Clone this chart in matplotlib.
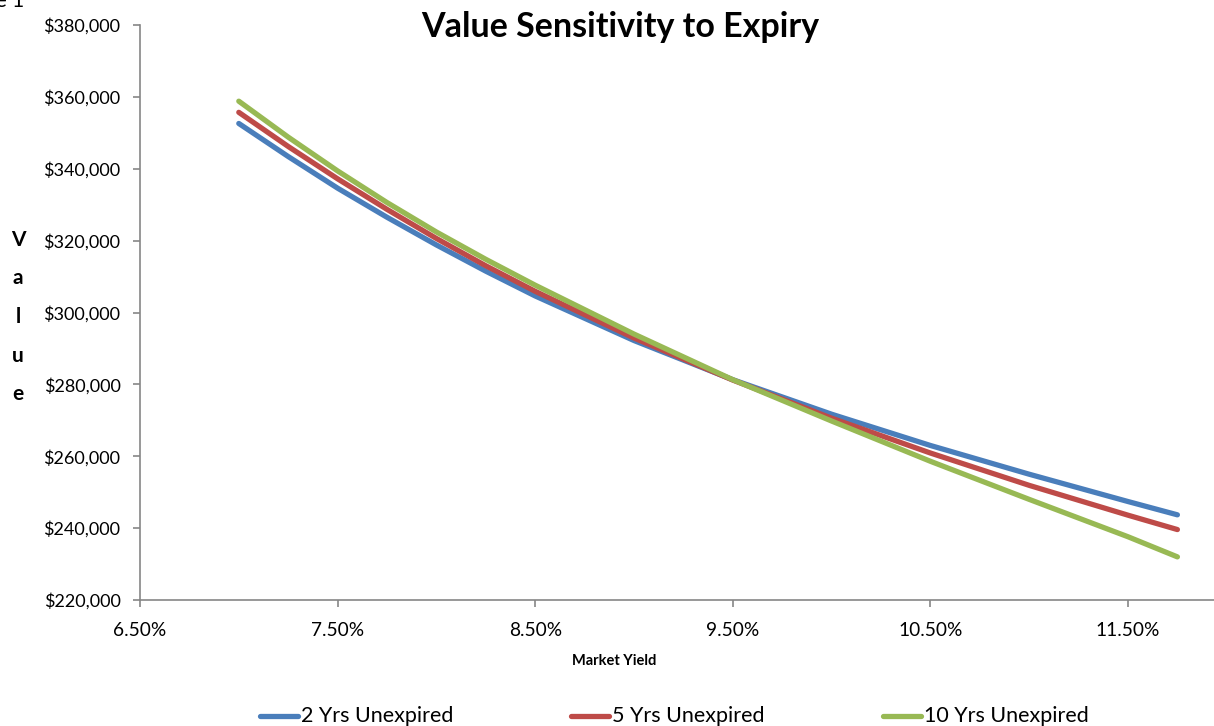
import matplotlib
matplotlib.use("Agg")
import matplotlib.pyplot as plt
from matplotlib.lines import Line2D
from matplotlib.ticker import FuncFormatter, MultipleLocator, FixedLocator

# ---- data ----
market_yield = [0.0700, 0.0725, 0.0750, 0.0775, 0.0800, 0.0825, 0.0850, 0.0900,
                0.0950, 0.1000, 0.1050, 0.1100, 0.1150, 0.1175]
value_2yrs = [352600, 343400, 334600, 326500, 318800, 311500, 304600, 292200,
              281300, 271700, 263000, 255000, 247400, 243700]
value_5yrs = [355700, 346200, 337200, 328700, 320600, 313000, 305900, 292900,
              281200, 270600, 260900, 251900, 243600, 239600]
value_10yrs = [358800, 348800, 339400, 330600, 322400, 314800, 307600, 294000,
               281300, 269800, 258600, 248000, 237600, 232000]
x_ticks = [0.065, 0.075, 0.085, 0.095, 0.105, 0.115]
series_names = ["2 Yrs Unexpired", "5 Yrs Unexpired", "10 Yrs Unexpired"]
series_colors = ["#4A7EBB", "#BE4B48", "#98B954"]

title = "Value Sensitivity to Expiry"
x_label = "Market Yield"
y_label = "Value"

plt.rcParams['font.family'] = ['Lato', 'DejaVu Sans']

W, H = 1214, 726
fig = plt.figure(figsize=(W / 100, H / 100), dpi=100)
ax = fig.add_axes([140 / W, 1 - 600 / H, 1 - 140 / W, (600 - 25) / H])

for vals, name, col in zip([value_2yrs, value_5yrs, value_10yrs], series_names, series_colors):
    ax.plot(market_yield, vals, color=col, lw=3.8, solid_capstyle='round',
            solid_joinstyle='round', label=name)

ax.set_xlim(0.065, 0.065 + (W - 140) / 197.6 / 100)
ax.set_ylim(220000, 380000)
ax.xaxis.set_major_locator(FixedLocator(x_ticks))
ax.yaxis.set_major_locator(MultipleLocator(20000))
ax.xaxis.set_major_formatter(FuncFormatter(lambda v, p: f"{v*100:.2f}%"))
ax.yaxis.set_major_formatter(FuncFormatter(lambda v, p: f"${v:,.0f}"))

for s in ['top', 'right']:
    ax.spines[s].set_visible(False)
for s in ['left', 'bottom']:
    ax.spines[s].set_color('#868686')
    ax.spines[s].set_linewidth(1.2)
ax.tick_params(axis='y', direction='out', length=5, width=1.2, color='#868686',
               pad=9, labelsize=13, labelcolor='black')
ax.tick_params(axis='x', direction='out', length=5, width=1.2, color='#868686',
               pad=11, labelsize=13.8, labelcolor='black')

fig.text(620 / W, 1 - 27 / H, title, ha='center', va='center', fontsize=24.5, fontweight='bold')
fig.text(614 / W, 1 - 661 / H, x_label, ha='center', va='center', fontsize=10.5, fontweight='bold')
for i, ch in enumerate(y_label):
    fig.text(18 / W, 1 - (240 + i * 38.5) / H, ch, ha='center', va='center',
             fontsize=15, fontweight='bold')

fig.text(24 / W, 1 - 1 / H, "Figure 1", ha='right', va='center', fontsize=15)

# legend entries
leg_x = [258, 569, 881]
leg_y = 716
for x0, name, col in zip(leg_x, series_names, series_colors):
    fig.add_artist(Line2D([(x0 + 2) / W, (x0 + 40) / W], [1 - leg_y / H, 1 - leg_y / H],
                          transform=fig.transFigure, color=col, lw=3.8,
                          solid_capstyle='round'))
    fig.text((x0 + 43) / W, 1 - leg_y / H, name, ha='left', va='center', fontsize=15.5)

fig.savefig("out.png", dpi=100)
